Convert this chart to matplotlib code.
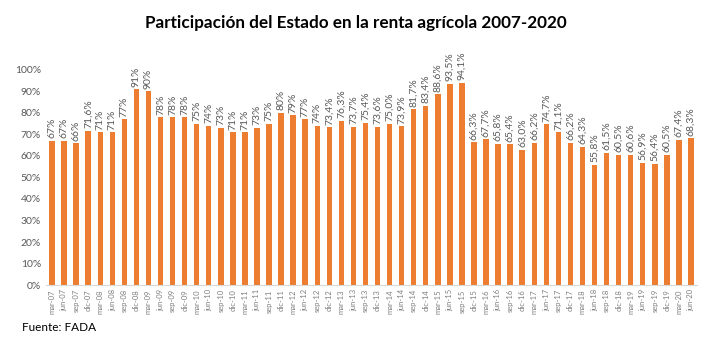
import matplotlib
matplotlib.use("Agg")
import matplotlib.pyplot as plt
from matplotlib.ticker import FuncFormatter

plt.rcParams['font.family'] = ['Lato', 'DejaVu Sans']

quarters = []
for y in range(7, 21):
    for q in ['mar', 'jun', 'sep', 'dic']:
        quarters.append(f"{q}-{y:02d}")
quarters = quarters[:54]

values = [67, 67, 66, 71.6, 71, 71, 77, 91, 90, 78, 78, 78, 75, 74, 73, 71, 71, 73,
          75, 80, 79, 77, 74, 73.4, 76.3, 73.7, 75.4, 73.6, 75.0, 73.9, 81.7, 83.4,
          88.6, 93.5, 94.1, 66.3, 67.7, 65.8, 65.4, 63.0, 66.2, 74.7, 71.1, 66.2,
          64.3, 55.8, 61.5, 60.5, 60.6, 56.9, 56.4, 60.5, 67.4, 68.3]
decimals = [0, 0, 0, 1, 0, 0, 0, 0, 0, 0, 0, 0, 0, 0, 0, 0, 0, 0,
            0, 0, 0, 0, 0, 1, 1, 1, 1, 1, 1, 1, 1, 1,
            1, 1, 1, 1, 1, 1, 1, 1, 1, 1, 1, 1,
            1, 1, 1, 1, 1, 1, 1, 1, 1, 1]

fig = plt.figure(figsize=(7.11, 3.59), dpi=100)
ax = fig.add_axes([0.0647, 0.2061, 0.9156, 0.599])
x = list(range(len(values)))
ax.bar(x, values, width=0.45, color='#ED7D31')
ax.set_xlim(-0.5, len(values) - 0.5)
ax.set_ylim(0, 100)
ax.set_yticks(range(0, 101, 10))
ax.yaxis.set_major_formatter(FuncFormatter(lambda v, p: f"{int(v)}%"))
ax.set_xticks(x)
ax.set_xticklabels(quarters, rotation=90, fontsize=5.5, color='#7f7f7f')
ax.tick_params(axis='y', labelsize=7.5, colors='#595959', length=0)
ax.tick_params(axis='x', length=0, pad=3)
for s in ['top', 'right', 'left']:
    ax.spines[s].set_visible(False)
ax.spines['bottom'].set_color('#d9d9d9')

for xi, v, d in zip(x, values, decimals):
    txt = f"{v:.{d}f}".replace('.', ',') + "%"
    ax.text(xi, v + 1.2, txt, rotation=90, ha='center', va='bottom',
            fontsize=7.5, color='#595959')

fig.text(0.5, 0.937, "Participación del Estado en la renta agrícola 2007-2020",
         ha='center', va='center', fontsize=12.3, fontweight='bold', color='#000000')
fig.text(0.031, 0.088, "Fuente: FADA", ha='left', va='center', fontsize=8.5,
         color='#000000')

fig.savefig("out.png", dpi=100)
